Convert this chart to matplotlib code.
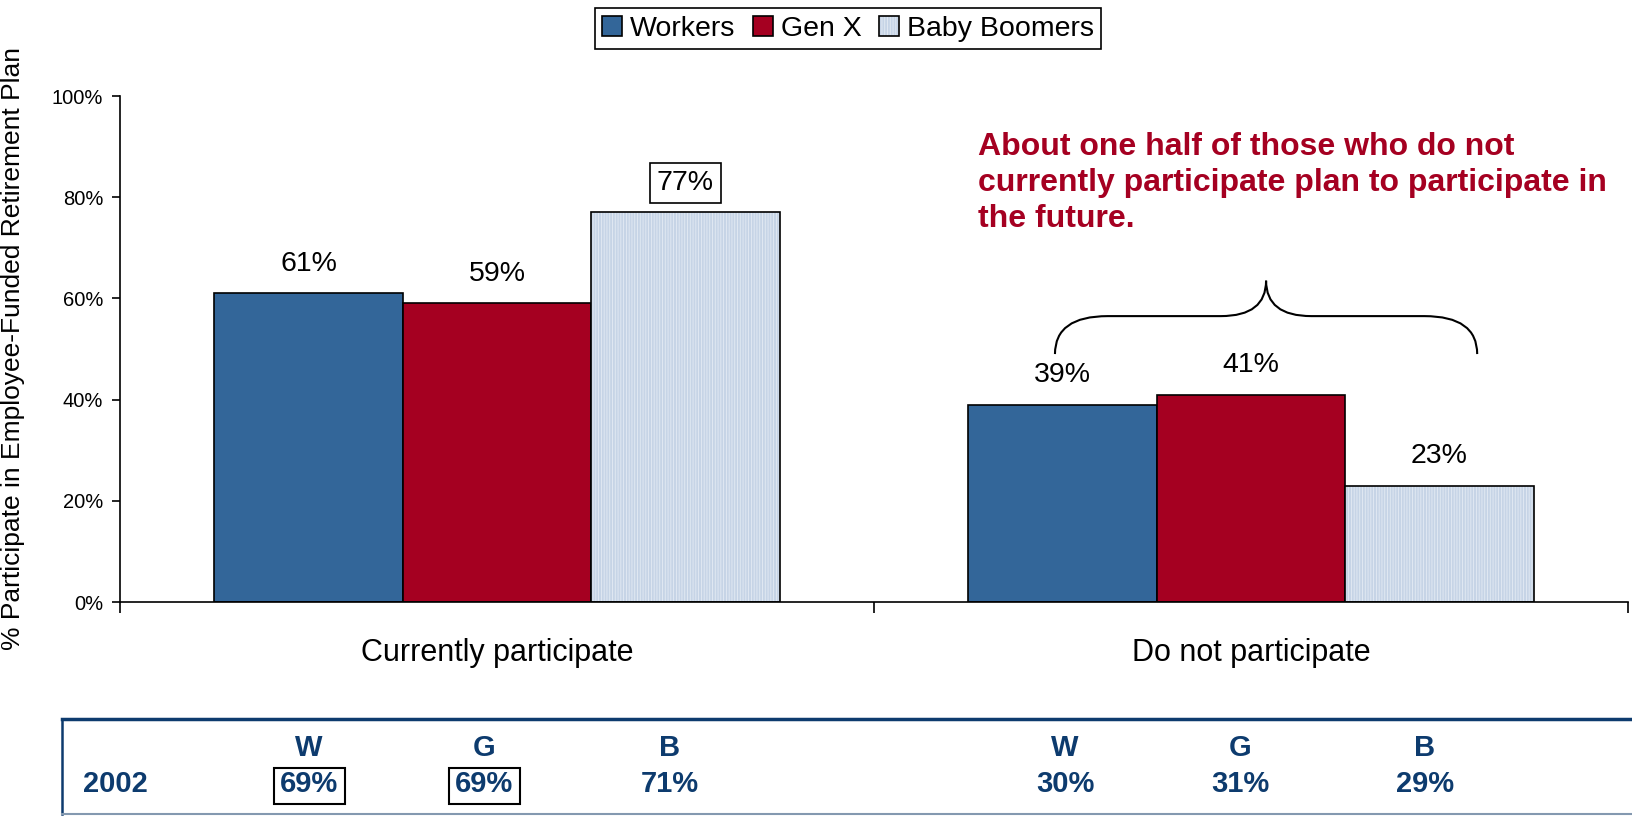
import numpy as np
import matplotlib.pyplot as plt
from matplotlib.path import Path
from matplotlib.patches import PathPatch, Rectangle
from matplotlib.lines import Line2D

plt.rcParams['font.family'] = ['Liberation Sans', 'DejaVu Sans']
plt.rcParams['hatch.linewidth'] = 0.6

categories = ['Currently participate', 'Do not participate']
series = ['Workers', 'Gen X', 'Baby Boomers']
workers = [61, 39]
gen_x = [59, 41]
boomers = [77, 23]
boxed_label = [(2, 0)]  # (series, category) of the highlighted value

# 2002 comparison strip
year = '2002'
letters = ['W', 'G', 'B']
prior_participate = [69, 69, 71]
prior_not = [30, 31, 29]
prior_boxed = [True, True, False]

note = ('About one half of those who do not\n'
        'currently participate plan to participate in\n'
        'the future.')

blue = '#336699'
red = '#A50021'
pale = '#C6D4E6'
navy = '#0D3B6E'

W, H = 1633, 816
fig = plt.figure(figsize=(W / 100, H / 100), dpi=100)
ax = fig.add_axes([120 / W, 1 - 602 / H, 1508 / W, 506 / H])

x = np.arange(len(categories))
bw = 0.25
b1 = ax.bar(x - bw, workers, bw, color=blue, edgecolor='black', linewidth=1.2, zorder=2)
b2 = ax.bar(x, gen_x, bw, color=red, edgecolor='black', linewidth=1.2, zorder=2)
b3 = ax.bar(x + bw, boomers, bw, color=pale, edgecolor='#E4EBF4', linewidth=0,
            hatch='||||||', zorder=2)
b3o = ax.bar(x + bw, boomers, bw, fill=False, edgecolor='black', linewidth=1.2, zorder=3)

for i, vals in enumerate([workers, gen_x, boomers]):
    for j, v in enumerate(vals):
        kw = {}
        if (i, j) in boxed_label:
            kw['bbox'] = dict(boxstyle='square,pad=0.25', fc='white', ec='black', lw=1.2)
        ax.annotate(f'{v}%', (x[j] + (i - 1) * bw, v), xytext=(0, 21),
                    textcoords='offset points', ha='center', va='center',
                    fontsize=20.5, **kw)

ax.set_xlim(-0.5, 1.5)
ax.set_ylim(0, 100)
ax.set_yticks(np.arange(0, 101, 20))
ax.set_yticklabels([f'{t}%' for t in range(0, 101, 20)], fontsize=14.5)
ax.tick_params(axis='y', length=6, width=1.2, pad=6)
ax.set_xticks(x)
ax.set_xticklabels(categories, fontsize=22)
ax.tick_params(axis='x', which='major', length=0, pad=26)
ax.set_xticks([-0.5, 0.5, 1.5], minor=True)
ax.tick_params(axis='x', which='minor', length=8, width=1.2)
for s in ['top', 'right']:
    ax.spines[s].set_visible(False)
for s in ['left', 'bottom']:
    ax.spines[s].set_linewidth(1.2)
ax.set_ylabel('% Participate in Employee-Funded Retirement Plan', fontsize=19)
ax.yaxis.set_label_coords(-0.063, 0.5)

# curly brace over the "do not participate" group
xl, xr, xc = 0.74, 1.30, 1.02
yb, yh, yt = 49, 56.5, 63.5
verts = [(xl, yb), (xl, yh), (xl + 0.07, yh),
         (xc - 0.06, yh),
         (xc, yh), (xc, yt),
         (xc, yh), (xc + 0.06, yh),
         (xr - 0.07, yh),
         (xr, yh), (xr, yb)]
codes = [Path.MOVETO, Path.CURVE3, Path.CURVE3,
         Path.LINETO,
         Path.CURVE3, Path.CURVE3,
         Path.CURVE3, Path.CURVE3,
         Path.LINETO,
         Path.CURVE3, Path.CURVE3]
ax.add_patch(PathPatch(Path(verts, codes), fill=False, lw=1.5, ec='black', zorder=4))

fig.text(978 / W, 1 - 183 / H, note, ha='left', va='center', color=red,
         fontsize=23, fontweight='bold', linespacing=1.25)

fig.legend([b1, b2, (b3, b3o)], series, loc='center',
           bbox_to_anchor=(848 / W, 1 - 28.5 / H), ncol=3, fontsize=20.5,
           frameon=True, fancybox=False, edgecolor='black', framealpha=1,
           handlelength=0.7, handleheight=0.7, handletextpad=0.3,
           columnspacing=0.6, borderpad=0.25)
fig.legends[0].get_frame().set_linewidth(1.2)

# 2002 strip along the bottom
fig.add_artist(Line2D([62 / W, 1], [1 - 719 / H] * 2, color=navy, lw=2.5))
fig.add_artist(Line2D([62 / W, 62 / W], [1 - 719 / H, 1 - 814 / H], color=navy, lw=1.8))
fig.add_artist(Line2D([62 / W, 1], [1 - 814 / H] * 2, color='#8499B0', lw=1.5))

row_top = 1 - 748 / H
row_bot = 1 - 784 / H
tkw = dict(ha='center', va='center', color=navy, fontsize=21, fontweight='bold')
fig.text(115 / W, row_bot, year, **tkw)
cols_left = [309, 484, 670]
cols_right = [1065, 1240, 1425]
for cx, letter, v, boxed in zip(cols_left, letters, prior_participate, prior_boxed):
    fig.text(cx / W, row_top, letter, **tkw)
    fig.text(cx / W, row_bot, f'{v}%', **tkw)
    if boxed:
        fig.add_artist(Rectangle(((cx - 35) / W, 1 - 804 / H), 71 / W, 36 / H,
                                 fill=False, ec='black', lw=1.5))
for cx, letter, v in zip(cols_right, letters, prior_not):
    fig.text(cx / W, row_top, letter, **tkw)
    fig.text(cx / W, row_bot, f'{v}%', **tkw)

fig.savefig('out.png', dpi=100)
